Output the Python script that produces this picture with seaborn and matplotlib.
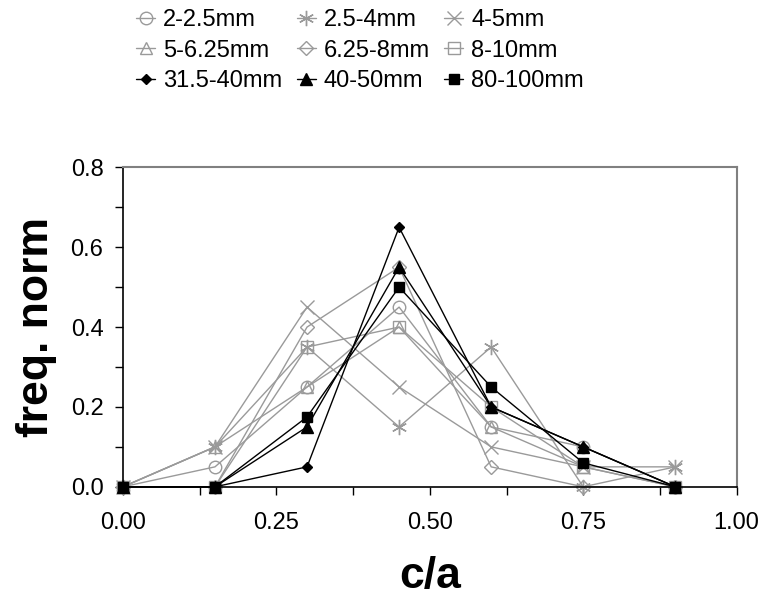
import matplotlib
matplotlib.use("Agg")
import matplotlib.pyplot as plt
import seaborn as sns
import numpy as np
import pandas as pd
from matplotlib.ticker import MultipleLocator, FormatStrFormatter

# ---- data ----
c_a = [0.0, 0.15, 0.30, 0.45, 0.60, 0.75, 0.90]
series_names = ["2-2.5mm", "2.5-4mm", "4-5mm",
                "5-6.25mm", "6.25-8mm", "8-10mm",
                "31.5-40mm", "40-50mm", "80-100mm"]
s_2_25 = [0.0, 0.05, 0.25, 0.45, 0.15, 0.10, 0.0]
s_25_4 = [0.0, 0.10, 0.35, 0.15, 0.35, 0.0, 0.05]
s_4_5 = [0.0, 0.10, 0.45, 0.25, 0.10, 0.05, 0.05]
s_5_625 = [0.0, 0.10, 0.25, 0.40, 0.15, 0.05, 0.0]
s_625_8 = [0.0, 0.0, 0.40, 0.55, 0.05, 0.0, 0.0]
s_8_10 = [0.0, 0.0, 0.35, 0.40, 0.20, 0.05, 0.0]
s_315_40 = [0.0, 0.0, 0.05, 0.65, 0.20, 0.10, 0.0]
s_40_50 = [0.0, 0.0, 0.15, 0.55, 0.20, 0.10, 0.0]
s_80_100 = [0.0, 0.0, 0.175, 0.50, 0.25, 0.06, 0.0]
values = [s_2_25, s_25_4, s_4_5, s_5_625, s_625_8, s_8_10, s_315_40, s_40_50, s_80_100]

df = pd.DataFrame({
    "c/a": np.tile(c_a, len(series_names)),
    "freq": np.concatenate(values),
    "series": np.repeat(series_names, len(c_a)),
})

gray = "#9a9a9a"
styles = {
    "2-2.5mm": dict(marker="o", ms=9, mfc="none", color=gray),
    "2.5-4mm": dict(marker=(6, 2, 0), ms=11, mfc="none", color=gray),
    "4-5mm": dict(marker="x", ms=10, mfc="none", color=gray),
    "5-6.25mm": dict(marker="^", ms=9, mfc="none", color=gray),
    "6.25-8mm": dict(marker="D", ms=7, mfc="none", color=gray),
    "8-10mm": dict(marker="s", ms=9, mfc="none", color=gray),
    "31.5-40mm": dict(marker="D", ms=5.5, mfc="black", color="black"),
    "40-50mm": dict(marker="^", ms=8, mfc="black", color="black"),
    "80-100mm": dict(marker="s", ms=7.5, mfc="black", color="black"),
}

sns.set_theme(style="white")
plt.rcParams["font.family"] = ["Liberation Sans", "DejaVu Sans"]
plt.rcParams["text.color"] = "black"
plt.rcParams["axes.labelcolor"] = "black"
plt.rcParams["xtick.color"] = "black"
plt.rcParams["ytick.color"] = "black"

fig = plt.figure(figsize=(7.73, 6.04), dpi=100)
ax = fig.add_axes([0.159, 0.194, 0.794, 0.529])

handles = {}
for name in series_names:
    st = styles[name]
    sub = df[df["series"] == name]
    sns.lineplot(data=sub, x="c/a", y="freq", ax=ax, color=st["color"],
                 marker=st["marker"], markersize=st["ms"],
                 markerfacecolor=st["mfc"], markeredgecolor=st["color"],
                 markeredgewidth=1.0, linewidth=1.0, label=name,
                 estimator=None, clip_on=False, zorder=3 if st["color"] == "black" else 2)
    handles[name] = ax.lines[-1]
ax.get_legend().remove()

ax.set_xlim(0, 1.0)
ax.set_ylim(0, 0.8)
ax.xaxis.set_major_locator(MultipleLocator(0.25))
ax.xaxis.set_minor_locator(MultipleLocator(0.125))
ax.yaxis.set_major_locator(MultipleLocator(0.2))
ax.yaxis.set_minor_locator(MultipleLocator(0.1))
ax.xaxis.set_major_formatter(FormatStrFormatter("%.2f"))
ax.yaxis.set_major_formatter(FormatStrFormatter("%.1f"))
ax.tick_params(axis="both", which="both", direction="out", length=6, width=1,
               color="black", labelcolor="black", labelsize=17, bottom=True, left=True)
ax.tick_params(axis="x", which="both", pad=12)
ax.tick_params(axis="y", which="both", pad=8)

for side in ["left", "bottom"]:
    ax.spines[side].set_color("black")
    ax.spines[side].set_linewidth(1.2)
for side in ["top", "right"]:
    ax.spines[side].set_color("#808080")
    ax.spines[side].set_linewidth(1.5)

ax.set_xlabel("c/a", fontsize=32, fontweight="bold", labelpad=16)
ax.set_ylabel("freq. norm", fontsize=32, fontweight="bold", labelpad=10)

order = ["2-2.5mm", "5-6.25mm", "31.5-40mm",
         "2.5-4mm", "6.25-8mm", "40-50mm",
         "4-5mm", "8-10mm", "80-100mm"]
fig.legend([handles[n] for n in order], order, ncol=3, frameon=False,
           fontsize=17, loc="upper left", bbox_to_anchor=(0.164, 1.0),
           bbox_transform=fig.transFigure, handlelength=0.8, handletextpad=0.35,
           columnspacing=0.6, labelspacing=0.35, borderaxespad=0)

fig.savefig("out.png", dpi=100, facecolor="white")
